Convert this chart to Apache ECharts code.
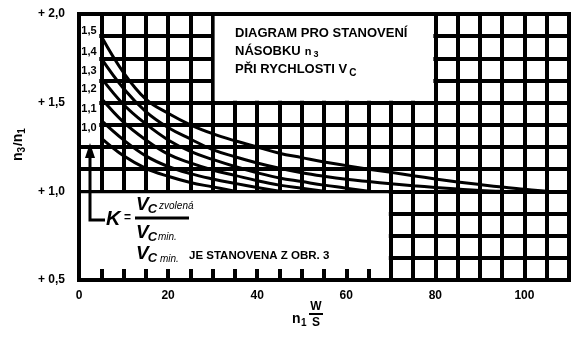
<!DOCTYPE html>
<html><head><meta charset="utf-8">
<script src="https://cdn.jsdelivr.net/npm/echarts@6/dist/echarts.min.js"></script>
<style>html,body{margin:0;padding:0;background:#fff}#c{width:585px;height:342px}</style>
</head><body><div id="c"></div><script>
// ---- data ----
const xSteps = [5,10,15,20,25,30,35,40,45,50,55,60,65,70,75,80,85,90,95,100,105];
const curveLabels = ['1,5','1,4','1,3','1,2','1,1','1,0'];
const k15 = [1.875,1.67,1.52,1.44,1.375,1.325,1.285,1.25,1.215,1.19,1.165,1.145,1.125,1.107,1.088,1.07,1.053,1.038,1.024,1.012,1.0];
const k14 = [1.75,1.58,1.45,1.36,1.295,1.235,1.195,1.16,1.13,1.105,1.085,1.068,1.055,1.043,1.032,1.022,1.013,1.005,1.0];
const k13 = [1.64,1.49,1.38,1.29,1.225,1.18,1.14,1.105,1.075,1.055,1.035,1.018,1.0];
const k12 = [1.525,1.39,1.29,1.21,1.16,1.12,1.09,1.06,1.035,1.017,1.0];
const k11 = [1.40,1.29,1.2,1.14,1.1,1.07,1.045,1.022,1.0];
const k10 = [1.30,1.2,1.13,1.085,1.05,1.025,1.0];
const curves = [k15,k14,k13,k12,k11,k10];
const xTickLabels = [0,20,40,60,80,100];
const yTickLabels = [0.5,1.0,1.5,2.0];
// blank panels of the nomogram: [x0,x1,y0,y1,keepBottomTicks]
const panels = [[30,80,1.5,2.0,0],[0,5,1.25,2.0,0],[0,70,0.5,1.0,1]];

const FF = '"Liberation Sans", Arial, sans-serif';
const chart = echarts.init(document.getElementById('c'), null, {renderer:'canvas'});

const ctx = document.createElement('canvas').getContext('2d');
function tw(text, size, weight, style){ ctx.font = (style||'normal')+' '+(weight||'bold')+' '+size+'px '+FF; return ctx.measureText(text).width; }
function txt(text, x, y, size, opts){
  opts = opts||{};
  return {type:'text', z:100, x:x, y:y, rotation: opts.rotation||0,
    style:{text:text, fill:'#000', fontSize:size, fontWeight:opts.weight||'bold', fontStyle:opts.style||'normal', fontFamily:FF,
      textAlign:opts.align||'left', align:opts.align||'left', textVerticalAlign:'middle', verticalAlign:'middle'}};
}
// sequence of pieces on one line: [text,size,dy,style,gap,weight]
function seq(x, y, parts){
  const out=[]; let cx=x;
  parts.forEach(p=>{ const w=p[5]||'bold'; cx += (p[4]||0); out.push(txt(p[0], cx, y+(p[2]||0), p[1], {style:p[3], weight:w})); cx += tw(p[0], p[1], w, p[3]); });
  return out;
}

const series = [{
  type:'custom', clip:false, z:2,
  data: panels,
  encode:{x:[0,1], y:[2,3]},
  renderItem:function(params, api){
    const a = api.coord([api.value(0), api.value(3)]);
    const b = api.coord([api.value(1), api.value(2)]);
    const ins = 2, bot = api.value(4) ? 11 : 2;
    return {type:'rect', shape:{x:a[0]+ins, y:a[1]+ins, width:b[0]-a[0]-2*ins, height:b[1]-a[1]-ins-bot}, style:{fill:'#fff'}};
  }
}];
curves.forEach((vals, i)=>{
  series.push({type:'line', z:3, smooth:0.4, showSymbol:false, silent:true,
    lineStyle:{color:'#000', width:3}, data: vals.map((v,j)=>[xSteps[j], v])});
});

const graphic = [];
// curve labels in left column
const labelY = [31,52,71,89,109,128];
curveLabels.forEach((l,i)=>graphic.push(txt(l, 89, labelY[i], 11, {align:'center'})));
// title box
graphic.push(txt('DIAGRAM PRO STANOVENÍ', 235, 33, 13));
graphic.push(...seq(235, 51, [['NÁSOBKU',13,0],['n',11,1,'normal',4],['3',9,4,'normal',2]]));
graphic.push(...seq(235, 69, [['PŘI RYCHLOSTI V',13,0],['C',10,4,'normal',2]]));
// arrow
graphic.push({type:'polyline', z:100, shape:{points:[[90,156],[90,220],[105,220]]}, style:{stroke:'#000', lineWidth:3, fill:null}});
graphic.push({type:'polygon', z:100, shape:{points:[[90,143],[85,158],[95,158]]}, style:{fill:'#000'}});
// formula
graphic.push(txt('K', 106, 219, 20, {style:'italic'}));
graphic.push(txt('=', 124, 218, 12));
graphic.push(...seq(136, 205, [['V',19,0,'italic'],['C',13,4,'italic',-1],['zvolená',10,1,'italic',2,'normal']]));
graphic.push({type:'line', z:100, shape:{x1:135,y1:218,x2:189,y2:218}, style:{stroke:'#000', lineWidth:3}});
graphic.push(...seq(136, 233, [['V',19,0,'italic'],['C',13,4,'italic',-1]]));
graphic.push(txt('min.', 158, 237, 10, {style:'italic', weight:'normal'}));
graphic.push(...seq(136, 254, [['V',19,0,'italic'],['C',13,4,'italic',-1]]));
graphic.push(txt('min.', 160, 259, 10, {style:'italic', weight:'normal'}));
graphic.push(txt('JE STANOVENA Z OBR. 3', 189, 256, 11.5));
// y-axis name (rotated)
graphic.push({type:'group', x:18, y:161, rotation:Math.PI/2, z:100, children:
  seq(0, 0, [['n',14,0],['3',10,4,'normal',0],['/',13,0,'normal',1],['n',14,0],['1',10,4,'normal',0]])});
// x-axis name
graphic.push(txt('n', 292, 319, 14));
graphic.push(txt('1', 301, 323, 10));
graphic.push(txt('W', 316, 307, 12, {align:'center'}));
graphic.push({type:'line', z:100, shape:{x1:309,y1:314,x2:323,y2:314}, style:{stroke:'#000', lineWidth:2}});
graphic.push(txt('S', 316, 323, 12, {align:'center'}));

chart.setOption({
  animation:false,
  grid:{left:79, right:16, top:14, bottom:62, show:true, borderColor:'#000', borderWidth:4, backgroundColor:'#fff'},
  xAxis:{type:'value', min:0, max:110, interval:5,
    axisLine:{show:true, lineStyle:{color:'#000', width:4}}, axisTick:{show:false},
    splitLine:{show:true, lineStyle:{color:'#000', width:4}},
    axisLabel:{color:'#000', fontWeight:'bold', fontSize:12, fontFamily:FF, margin:10,
      formatter:v=> xTickLabels.indexOf(v)>=0 ? String(v) : ''}},
  yAxis:{type:'value', min:0.5, max:2.0, interval:0.125,
    axisLine:{show:true, lineStyle:{color:'#000', width:4}}, axisTick:{show:false},
    splitLine:{show:true, lineStyle:{color:'#000', width:4}},
    axisLabel:{color:'#000', fontWeight:'bold', fontSize:12, fontFamily:FF, margin:14,
      formatter:v=>{ const m = yTickLabels.find(t=>Math.abs(t-v)<1e-6); return m!==undefined ? '+ '+m.toFixed(1).replace('.',',') : ''; }}},
  series: series,
  graphic: graphic
});
</script></body></html>
